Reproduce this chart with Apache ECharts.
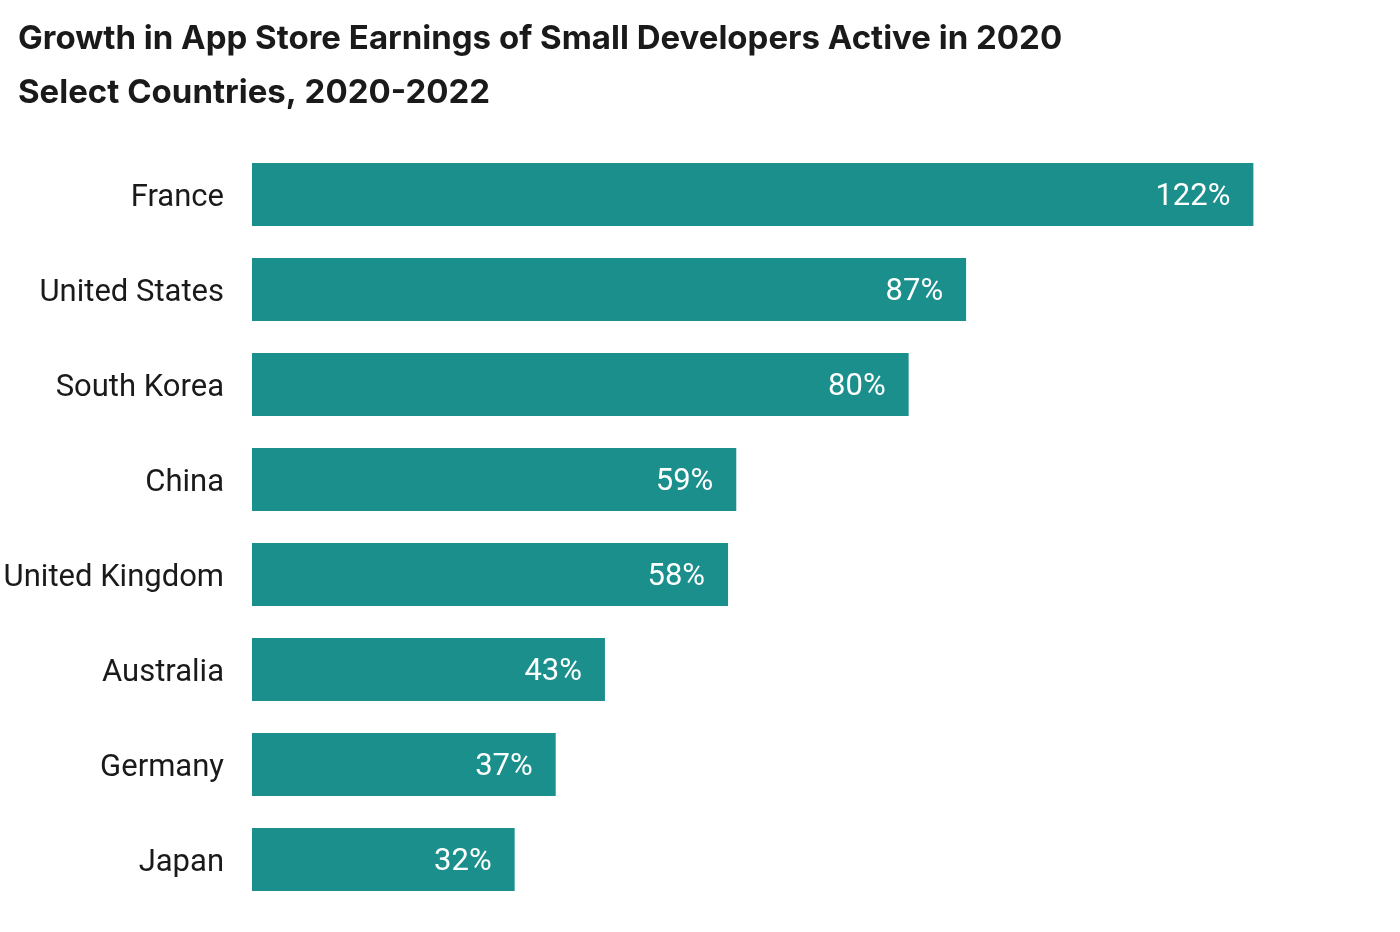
<!DOCTYPE html>
<html>
<head>
<meta charset="utf-8">
<script src="https://cdn.jsdelivr.net/npm/echarts@6/dist/echarts.min.js"></script>
<style>
html,body{margin:0;padding:0;background:#fff;}
#chart{width:1400px;height:932px;}
</style>
</head>
<body>
<div id="chart"></div>
<script>
const categories = ["France", "United States", "South Korea", "China", "United Kingdom", "Australia", "Germany", "Japan"];
const growthPct = [122, 87, 80, 59, 58, 43, 37, 32];

const chart = echarts.init(document.getElementById('chart'), null, {renderer: 'canvas'});
chart.setOption({
  backgroundColor: '#ffffff',
  animation: false,
  title: {
    text: 'Growth in App Store Earnings of Small Developers Active in 2020\nSelect Countries, 2020-2022',
    left: 13,
    top: 7,
    textStyle: {
      fontFamily: 'Inter, Roboto, sans-serif',
      fontWeight: 'bold',
      fontSize: 33,
      lineHeight: 54,
      color: '#1a1a1a'
    }
  },
  grid: {left: 252, top: 147, width: 1113, height: 760, containLabel: false, outerBoundsMode: 'none'},
  xAxis: {
    type: 'value',
    min: 0,
    max: 135.6,
    show: false
  },
  yAxis: {
    type: 'category',
    data: categories,
    inverse: true,
    axisLine: {show: false},
    axisTick: {show: false},
    splitLine: {show: false},
    axisLabel: {
      margin: 28,
      formatter: v => '{a|' + v + '}',
      rich: {
        a: {
          fontFamily: 'Roboto, sans-serif',
          fontSize: 31,
          color: '#1a1a1a',
          padding: [8, 0, 0, 0]
        }
      }
    }
  },
  series: [{
    type: 'bar',
    data: growthPct,
    barWidth: 63,
    itemStyle: {color: '#1a8f8c'},
    label: {
      show: true,
      position: 'insideRight',
      distance: 23,
      offset: [0, 3],
      formatter: p => p.value + '%',
      fontFamily: 'Roboto, sans-serif',
      fontSize: 31,
      color: '#ffffff'
    }
  }]
});
</script>
</body>
</html>
